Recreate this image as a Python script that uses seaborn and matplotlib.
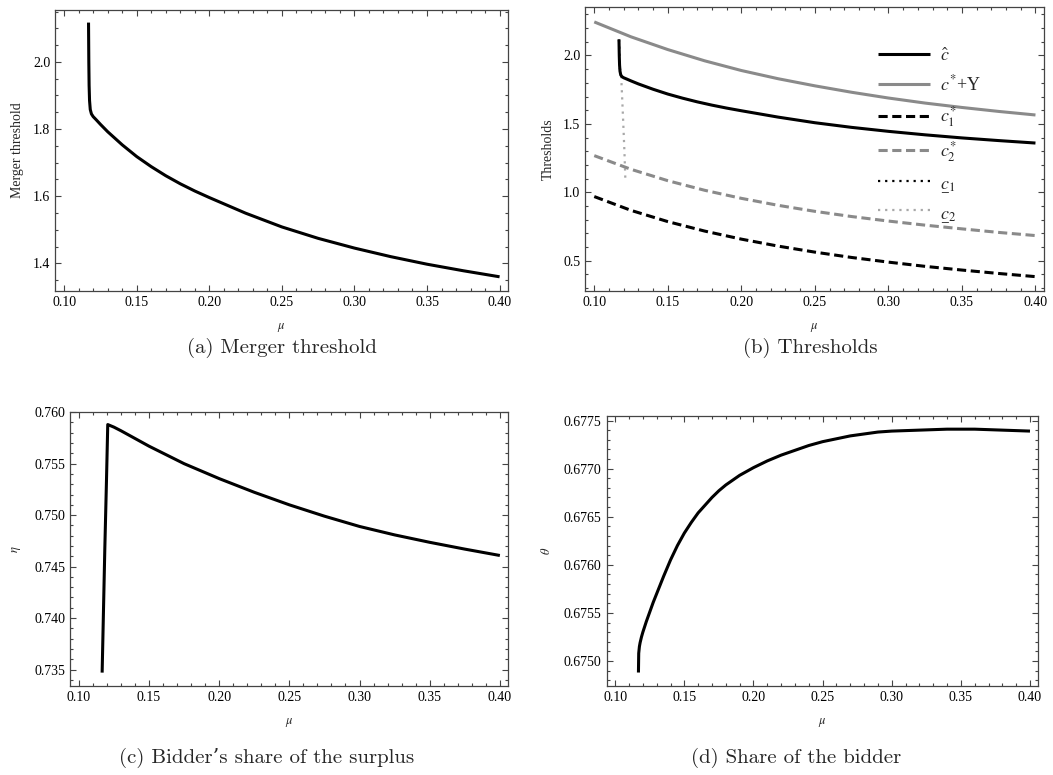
import matplotlib
matplotlib.use("Agg")
import matplotlib.pyplot as plt
import seaborn as sns
from matplotlib.ticker import MultipleLocator, FormatStrFormatter

# ---------------- data ----------------
# merger threshold  c-hat  (panels a and b)
mu_hat = [0.1168, 0.1170, 0.1172, 0.1175, 0.1180, 0.1188, 0.1200, 0.1220, 0.125, 0.13,
          0.14, 0.15, 0.16, 0.17, 0.18, 0.19, 0.20, 0.225, 0.25, 0.275, 0.30, 0.325,
          0.35, 0.375, 0.40]
c_hat = [2.117, 2.000, 1.930, 1.885, 1.858, 1.845, 1.837, 1.828, 1.814, 1.792,
         1.753, 1.718, 1.688, 1.661, 1.637, 1.6155, 1.596, 1.5495, 1.5085, 1.4745, 1.4455,
         1.420, 1.3975, 1.378, 1.360]

# c* + Y
mu_full = [0.10, 0.125, 0.15, 0.175, 0.20, 0.225, 0.25, 0.275, 0.30, 0.325, 0.35, 0.375, 0.40]
c_star_Y = [2.245, 2.136, 2.043, 1.961, 1.890, 1.830, 1.778, 1.731, 1.689, 1.652, 1.620, 1.591, 1.565]
# c1*, c2*
c1_star = [0.969, 0.868, 0.786, 0.717, 0.658, 0.607, 0.563, 0.524, 0.490, 0.459, 0.432, 0.407, 0.384]
c2_star = [1.268, 1.168, 1.085, 1.015, 0.956, 0.905, 0.861, 0.823, 0.790, 0.760, 0.733, 0.707, 0.684]

# lower thresholds c_1, c_2 (near-vertical segments)
mu_low1 = [0.1168, 0.1172, 0.1178, 0.1183]
c_low1 = [2.117, 1.930, 1.870, 1.850]
mu_low2 = [0.1183, 0.1195, 0.1205, 0.1212]
c_low2 = [1.850, 1.560, 1.300, 1.076]

# bidder's share of the surplus  eta  (panel c)
mu_eta = [0.1166, 0.1185, 0.1197, 0.1206, 0.125, 0.13, 0.14, 0.15, 0.175, 0.20, 0.225,
          0.25, 0.275, 0.30, 0.325, 0.35, 0.375, 0.40]
eta = [0.7347, 0.7467, 0.7534, 0.7588, 0.75855, 0.75820, 0.75745, 0.75670, 0.75500,
       0.75355, 0.75222, 0.75100, 0.74990, 0.74890, 0.74808, 0.74736, 0.74670, 0.74608]

# share of the bidder  theta  (panel d)
mu_theta = [0.1168, 0.1170, 0.1175, 0.118, 0.119, 0.12, 0.1225, 0.125, 0.1275, 0.13,
            0.135, 0.14, 0.145, 0.15, 0.155, 0.16, 0.165, 0.17, 0.175, 0.18, 0.19, 0.20,
            0.21, 0.22, 0.23, 0.24, 0.25, 0.26, 0.27, 0.28, 0.29, 0.30, 0.32, 0.34, 0.36,
            0.38, 0.40]
theta = [0.67488, 0.67508, 0.67515, 0.67519, 0.67525, 0.67530, 0.67541, 0.67551, 0.67561,
         0.67570, 0.67588, 0.67605, 0.67620, 0.67633, 0.67644, 0.67654, 0.67662, 0.67670,
         0.67677, 0.67683, 0.67693, 0.67701, 0.67708, 0.67714, 0.67719, 0.67724, 0.67728,
         0.67731, 0.67734, 0.67736, 0.67738, 0.67739, 0.67740, 0.67741, 0.67741, 0.67740,
         0.67739]

captions = ["(a) Merger threshold", "(b) Thresholds",
            "(c) Bidder\u2019s share of the surplus", "(d) Share of the bidder"]

# ---------------- style ----------------
sns.set_theme(style="ticks")
plt.rcParams["font.family"] = ["Liberation Serif", "DejaVu Serif"]
plt.rcParams["mathtext.fontset"] = "stix"
plt.rcParams["axes.unicode_minus"] = False

FRAME = "#444444"
GRAY = "#8a8a8a"
LGRAY = "#a8a8a8"
LW = 2.2
TICK_FS = 10


def pick(cands):
    for c in cands:
        f = plt.figure()
        try:
            f.text(0.5, 0.5, c)
            f.canvas.draw()
            plt.close(f)
            return c
        except Exception:
            plt.close(f)
    return cands[-1]


lab_low1 = pick([r"$\underline{c}_1$", r"$\underset{-}{c}_1$", r"$c_1$"])
lab_low2 = pick([r"$\underline{c}_2$", r"$\underset{-}{c}_2$", r"$c_2$"])


def style(ax, ylim, ymaj, ymin, yfmt):
    ax.set_xlim(0.0937, 0.4058)
    ax.set_ylim(*ylim)
    ax.xaxis.set_major_locator(MultipleLocator(0.05))
    ax.xaxis.set_minor_locator(MultipleLocator(0.01))
    ax.xaxis.set_major_formatter(FormatStrFormatter("%.2f"))
    ax.yaxis.set_major_locator(MultipleLocator(ymaj))
    ax.yaxis.set_minor_locator(MultipleLocator(ymin))
    ax.yaxis.set_major_formatter(FormatStrFormatter(yfmt))
    ax.tick_params(which="both", direction="in", top=True, right=True,
                   color=FRAME, labelcolor="black", labelsize=TICK_FS, width=0.8)
    ax.tick_params(which="major", length=4.5, pad=3.5)
    ax.tick_params(which="minor", length=2.5)
    for s in ax.spines.values():
        s.set_color(FRAME)
        s.set_linewidth(0.9)
        s.set_visible(True)
    ax.set_xlabel(r"$\mu$", fontsize=9, labelpad=9)


W, H = 1053, 775
fig = plt.figure(figsize=(W / 100, H / 100), dpi=100)
fig.patch.set_facecolor("white")


def add_ax(l, r, t, b):
    return fig.add_axes([l / W, 1 - b / H, (r - l) / W, (b - t) / H])


ax_a = add_ax(55, 508, 10, 291)
ax_b = add_ax(585, 1044, 7, 291)
ax_c = add_ax(70, 508, 412, 686)
ax_d = add_ax(606.5, 1038, 415.7, 686)

# ---- (a)
sns.lineplot(x=mu_hat, y=c_hat, ax=ax_a, color="black", linewidth=LW,
             estimator=None, sort=False, solid_capstyle="butt")
style(ax_a, (1.3177, 2.1545), 0.2, 0.05, "%.1f")
ax_a.set_ylabel("Merger threshold", fontsize=10, labelpad=6)

# ---- (b)
sns.lineplot(x=mu_low1, y=c_low1, ax=ax_b, color="black", linewidth=1.6,
             linestyle=(0, (1, 2.2)), estimator=None, sort=False)
h_low1 = ax_b.lines[-1]
sns.lineplot(x=mu_low2, y=c_low2, ax=ax_b, color=LGRAY, linewidth=1.6,
             linestyle=(0, (1, 2.2)), estimator=None, sort=False)
h_low2 = ax_b.lines[-1]
sns.lineplot(x=mu_full, y=c2_star, ax=ax_b, color=GRAY, linewidth=LW,
             linestyle=(0, (3, 1.5)), estimator=None, sort=False)
h_c2 = ax_b.lines[-1]
sns.lineplot(x=mu_full, y=c1_star, ax=ax_b, color="black", linewidth=LW,
             linestyle=(0, (3, 1.5)), estimator=None, sort=False)
h_c1 = ax_b.lines[-1]
sns.lineplot(x=mu_full, y=c_star_Y, ax=ax_b, color=GRAY, linewidth=LW,
             estimator=None, sort=False, solid_capstyle="butt")
h_cy = ax_b.lines[-1]
sns.lineplot(x=mu_hat, y=c_hat, ax=ax_b, color="black", linewidth=LW,
             estimator=None, sort=False, solid_capstyle="butt")
h_hat = ax_b.lines[-1]
style(ax_b, (0.279, 2.354), 0.5, 0.1, "%.1f")
ax_b.set_ylabel("Thresholds", fontsize=10, labelpad=6)
leg = ax_b.legend([h_hat, h_cy, h_c1, h_c2, h_low1, h_low2],
                  [r"$\hat{c}$", r"$c^{*}$+Y", r"$c_1^{*}$", r"$c_2^{*}$", lab_low1, lab_low2],
                  loc="upper left", bbox_to_anchor=(0.638, 0.858), frameon=False,
                  fontsize=13, handlelength=2.9, handletextpad=0.55,
                  labelspacing=0.55, borderpad=0, borderaxespad=0)

# ---- (c)
sns.lineplot(x=mu_eta, y=eta, ax=ax_c, color="black", linewidth=LW,
             estimator=None, sort=False, solid_capstyle="butt")
style(ax_c, (0.7334, 0.76002), 0.005, 0.001, "%.3f")
ax_c.set_ylabel(r"$\eta$", fontsize=9, labelpad=8)

# ---- (d)
sns.lineplot(x=mu_theta, y=theta, ax=ax_d, color="black", linewidth=LW,
             estimator=None, sort=False, solid_capstyle="butt")
style(ax_d, (0.67474, 0.67755), 0.0005, 0.0001, "%.4f")
ax_d.set_ylabel(r"$\theta$", fontsize=9, labelpad=8)

# captions
cap_font = ["cmr10", "DejaVu Serif"]
fig.text(282 / W, 1 - 348 / H, captions[0], ha="center", va="center", fontsize=15, family=cap_font)
fig.text(810 / W, 1 - 348 / H, captions[1], ha="center", va="center", fontsize=15, family=cap_font)
fig.text(267 / W, 1 - 758 / H, captions[2], ha="center", va="center", fontsize=15, family=cap_font)
fig.text(796 / W, 1 - 758 / H, captions[3], ha="center", va="center", fontsize=15, family=cap_font)

fig.savefig("out.png", dpi=100, facecolor="white")
